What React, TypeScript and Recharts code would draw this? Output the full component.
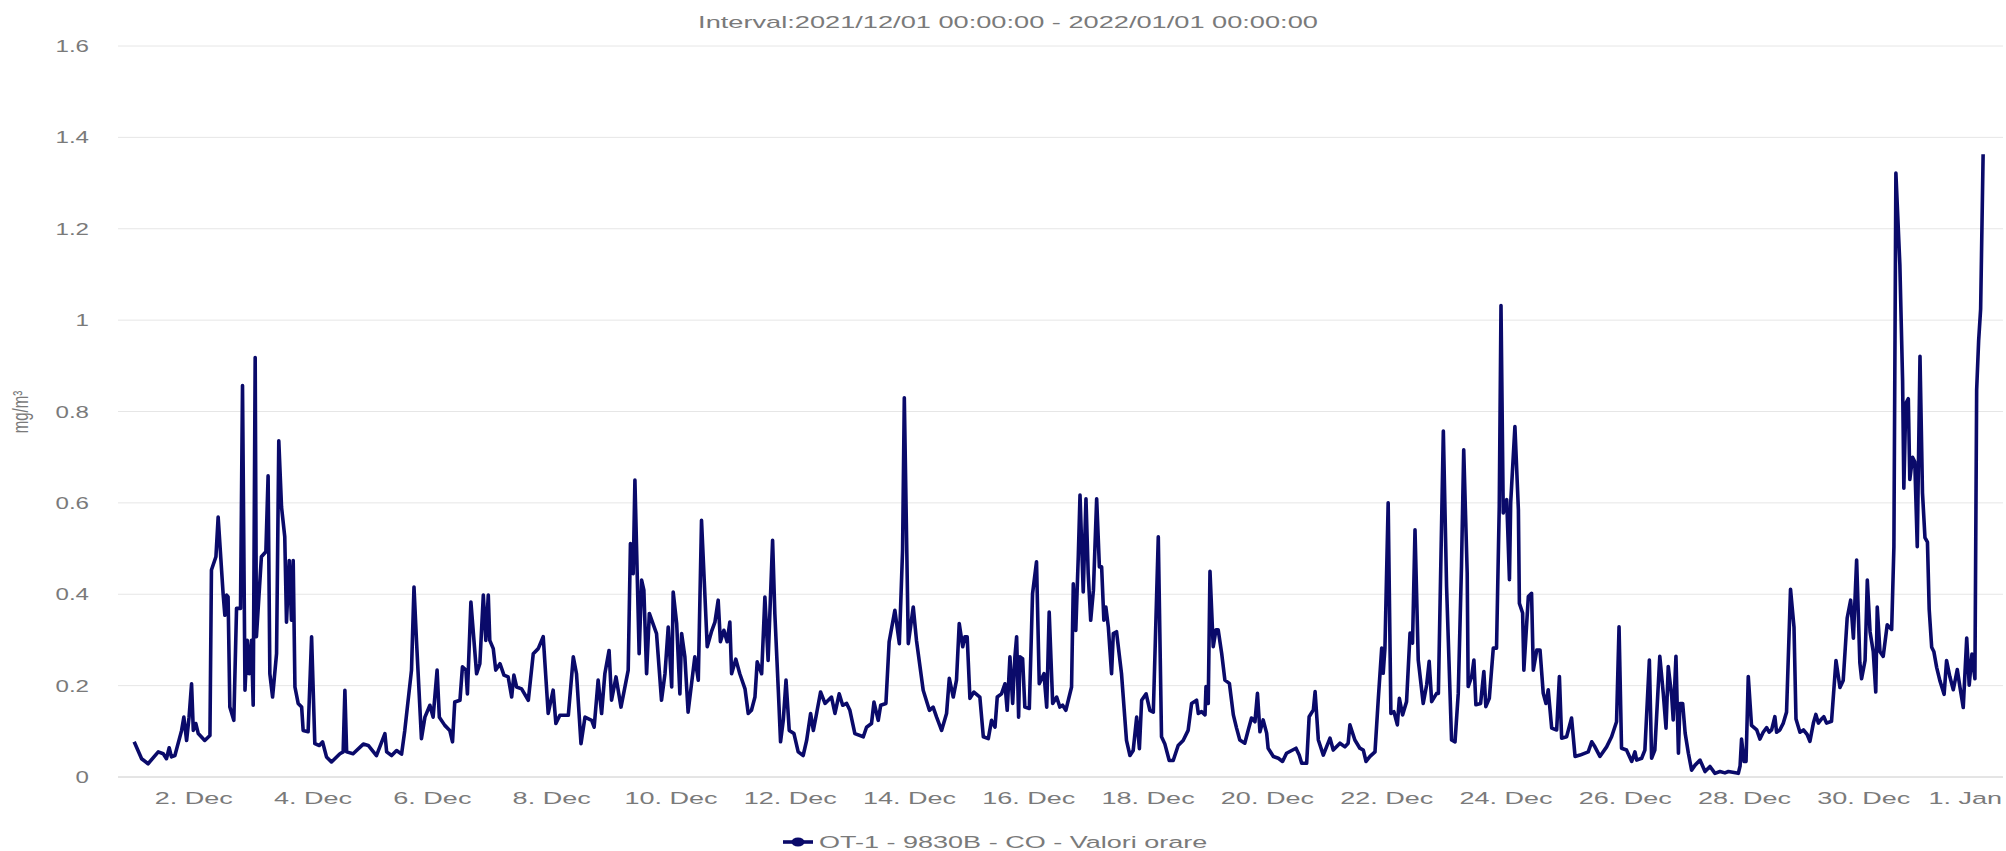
import React from 'react';
import { LineChart, Line, XAxis, YAxis, CartesianGrid } from 'recharts';

const TITLE = 'Interval:2021/12/01 00:00:00 - 2022/01/01 00:00:00';
const SERIES_NAME = 'OT-1 - 9830B - CO - Valori orare';
const Y_UNIT = 'mg/m³';

// x = hours since 2021/12/01 00:00
const X_TICKS = [24, 72, 120, 168, 216, 264, 312, 360, 408, 456, 504, 552, 600, 648, 696, 744];
const X_TICK_LABELS = [
  '2. Dec', '4. Dec', '6. Dec', '8. Dec', '10. Dec', '12. Dec', '14. Dec', '16. Dec',
  '18. Dec', '20. Dec', '22. Dec', '24. Dec', '26. Dec', '28. Dec', '30. Dec', '1. Jan',
];
const Y_TICKS = [0, 0.2, 0.4, 0.6, 0.8, 1, 1.2, 1.4, 1.6];

// [hour, mg/m3]
const DEC_01_04 = [
  [0, .077], [3, .040], [5.6, .029], [9.7, .055], [11.7, .051], [13, .040], [14.1, .064], [15, .044],
  [16.4, .047], [19.1, .102], [20, .131], [21.1, .080], [22.1, .131], [23.1, .204], [23.8, .102],
  [24.8, .117], [25.8, .095], [28.4, .080], [30.5, .091], [31.1, .453], [32.9, .482], [33.8, .569],
  [35.8, .401], [36.5, .354], [37.2, .398], [37.8, .394], [38.5, .153], [40.1, .124], [41.2, .369],
  [42.8, .369], [43.6, .857], [44.6, .190], [45.5, .299], [46.3, .226], [47.2, .299], [47.9, .157],
  [48.7, .918], [49.2, .307], [51.2, .482], [53, .493], [53.9, .659], [54.6, .226], [55.7, .175],
  [57.3, .270], [58.2, .736], [59.3, .591], [60.6, .526], [61.3, .339], [62.4, .474], [63.3, .343],
  [64, .474], [64.7, .197], [66, .161], [67.4, .153], [68, .102], [70, .099], [71.4, .307], [72.7, .073],
  [74.5, .069], [75.8, .077], [77.4, .044], [79.4, .033], [82.8, .051], [84.1, .055], [84.8, .190],
  [85.5, .055], [88.1, .051], [92.2, .072], [94.2, .069], [97.5, .047],
];

const DEC_05_09 = [
  [100.9, .095], [101.6, .055], [103.6, .047], [105.6, .058], [107.6, .050], [108.9, .102], [111.6, .234],
  [112.6, .416], [113.6, .299], [115.6, .084], [117, .131], [119, .157], [120.3, .131], [121.9, .234],
  [122.8, .131], [125, .113], [127, .102], [128.1, .077], [129, .164], [131.1, .168], [132.1, .241],
  [133.5, .234], [134.1, .182], [135.5, .383], [137.8, .226], [139.1, .248], [140.5, .398], [141.5, .299],
  [142.5, .398], [143.1, .299], [144.5, .281], [145.5, .234], [147.2, .248], [148.8, .223], [150.5, .219],
  [151.9, .175], [152.8, .223], [153.9, .197], [155.9, .193], [158.6, .168], [160.6, .270], [162.6, .281],
  [164.6, .307], [166.6, .139], [168.6, .190], [169.7, .117], [171.3, .135], [174.7, .135], [176.7, .263],
  [178, .226], [179.8, .073], [181.4, .131], [184.1, .124], [185.1, .109], [186.7, .212], [188.1, .139],
  [189.4, .226], [191.1, .277], [192.1, .168], [193.9, .219], [195.9, .153], [198.8, .234], [199.7, .511],
  [200.8, .445], [201.5, .650], [203.2, .270], [204.2, .431], [205.1, .409], [206.2, .226], [207.3, .358],
];

const DEC_09_14 = [
  [210.2, .314], [212.2, .168], [213.6, .226], [214.9, .328], [216.3, .197], [216.9, .405], [218.3, .336],
  [219.6, .182], [220.3, .314], [221.6, .263], [222.9, .142], [225.6, .263], [227, .212], [228.3, .562],
  [230.6, .285], [232.3, .318], [233.7, .339], [235, .387], [235.9, .296], [237.3, .321], [238.6, .296],
  [239.7, .339], [240.4, .226], [242.1, .258], [243.7, .226], [245.8, .193], [247.1, .139], [248.4, .146],
  [249.8, .175], [250.7, .252], [252.5, .226], [253.8, .394], [255.1, .255], [256.9, .518], [257.8, .358],
  [259.2, .190], [260.1, .077], [261.2, .124], [262.3, .212], [263.6, .102], [265.5, .095], [267.2, .055],
  [269.2, .047], [270.6, .080], [272.2, .139], [273.3, .102], [274.6, .139], [276.2, .186], [278, .161],
  [280.6, .175], [282, .139], [283.7, .182], [285.1, .157], [286.7, .161], [288, .146], [290, .095],
  [293.4, .088], [294.7, .109], [296.7, .117], [297.7, .164], [299.4, .124], [300.4, .157], [302.5, .161],
  [303.8, .296], [306.1, .365], [307.9, .292], [309.2, .496], [309.9, .830], [311.5, .292], [313.5, .372],
  [314.8, .299],
];

const DEC_14_18 = [
  [317.5, .190], [320, .146], [321.5, .153], [322.9, .131], [324.9, .102], [326.9, .139], [328, .216],
  [329.6, .175], [330.9, .212], [332, .336], [333.4, .285], [334.3, .307], [335.2, .307], [336.3, .172],
  [337.9, .186], [340.3, .175], [341.7, .088], [343.7, .084], [345, .124], [346.4, .109], [347.3, .175],
  [349, .182], [350.4, .204], [351.3, .146], [352.4, .263], [353.5, .161], [354.4, .263], [355.1, .307],
  [355.9, .131], [356.4, .263], [357.5, .259], [358.4, .153], [360.2, .150], [361.5, .401], [363.1, .471],
  [364.2, .204], [366.1, .226], [367.2, .153], [368.2, .361], [369.6, .161], [371.2, .175], [372.5, .153],
  [373.6, .157], [374.9, .146], [377.2, .197], [377.9, .423], [378.9, .321], [379.9, .482], [380.6, .617],
  [381.9, .405], [383, .609], [383.9, .445], [384.9, .343], [386, .409], [387.3, .609], [388.4, .460],
  [389.3, .460], [390.2, .343], [391, .372], [392, .328], [393.3, .226], [394, .314], [395.3, .318],
  [397.3, .226], [399.3, .080], [400.7, .047], [402, .058], [403.4, .131], [404.5, .062], [405.4, .168],
  [407.2, .182], [408.7, .146], [410.1, .142], [412.1, .526], [413.4, .088], [414.7, .073], [416.5, .036],
  [418.1, .036], [420.1, .069], [422.1, .080], [424.1, .102], [425.5, .161], [427.5, .168],
];

const DEC_18_23 = [
  [428.2, .139], [429.5, .143], [430.9, .136], [431.3, .198], [432.2, .161], [432.9, .450], [434.2, .285],
  [435.3, .322], [436.2, .322], [437.6, .271], [438.9, .212], [440.7, .205], [442.3, .136], [443.6, .107],
  [444.9, .081], [446.9, .074], [448.3, .103], [449.6, .129], [451, .121], [452, .183], [453, .099],
  [454.3, .125], [455.7, .096], [456.3, .063], [458.4, .045], [460.4, .041], [462.1, .034], [463.7, .052],
  [467.5, .063], [468.8, .048], [469.8, .030], [471.8, .030], [472.8, .132], [474.5, .147], [475.2, .187],
  [476.5, .081], [478.5, .048], [479.8, .066], [481.2, .085], [482.5, .059], [485.2, .074], [487.2, .066],
  [488.5, .074], [489.2, .114], [491.2, .081], [493.2, .063], [494.6, .059], [495.7, .034], [497.3, .045],
  [499.3, .055], [500.6, .169], [502, .282], [502.6, .227], [503.3, .282], [504.6, .600], [505.7, .139],
  [506.9, .143], [508.3, .114], [509.1, .172], [510.4, .136], [512, .165], [513.4, .315], [514.4, .293],
  [515.4, .541], [516.7, .256], [518.7, .161], [520.1, .202], [521.1, .253], [522.1, .165], [524.1, .183],
  [524.8, .183], [526.8, .757], [528.1, .417], [530.1, .081], [531.5, .077], [532.8, .183], [534.1, .461],
  [535, .716],
];

const DEC_23_27 = [
  [536.4, .446], [536.8, .198], [538.2, .220], [539.1, .256], [539.9, .158], [541.8, .161], [543.1, .231],
  [543.9, .154], [545.3, .172], [546.9, .282], [548.2, .282], [549.3, .592], [550, 1.032], [550.9, .578],
  [552.3, .607], [553.4, .432], [553.9, .600], [555.6, .767], [557, .585], [557.4, .380], [558.7, .359],
  [559.2, .234], [561, .395], [562.3, .402], [563, .234], [564.4, .278], [565.7, .278], [567, .183],
  [568.1, .161], [569, .191], [570.4, .107], [572.4, .103], [573.5, .220], [574.4, .085], [576.4, .088],
  [578.4, .129], [579.8, .045], [581.8, .048], [585.1, .055], [586.5, .077], [587.8, .066], [589.8, .045],
  [592.5, .066], [594.5, .088], [596.5, .121], [597.5, .329], [598.5, .063], [600.5, .059], [602.6, .034],
  [603.9, .055], [604.6, .037], [606.6, .041], [607.9, .059], [609.7, .256], [610.6, .041], [611.9, .059],
  [613.9, .264], [615.3, .183], [616.4, .107], [617.3, .242], [618.7, .176], [619.3, .125], [620.4, .264],
  [621.4, .052], [622, .161], [623.1, .161], [624.1, .096], [625.4, .052], [626.7, .015], [628.1, .026],
  [630.1, .037], [632.1, .012], [634.1, .023], [636.1, .008], [638.1, .012], [640.1, .009], [641.5, .012],
  [645.5, .008],
];

const DEC_27_31 = [
  [646.2, .024], [646.8, .083], [647.8, .034], [648.6, .034], [649.5, .220], [650.8, .113], [652.9, .103],
  [654.2, .083], [655.5, .098], [656.9, .108], [657.9, .098], [658.9, .103], [660.2, .132], [660.9, .098],
  [662.2, .103], [663.6, .118], [664.9, .142], [666.5, .411], [667.9, .328], [668.7, .127], [670.3, .098],
  [671.7, .103], [673.2, .093], [674.3, .078], [675.7, .118], [676.7, .137], [677.7, .118], [679, .127],
  [679.9, .132], [681, .118], [683, .122], [684.8, .255], [686.4, .196], [687.7, .211], [689.3, .348],
  [690.7, .387], [691.8, .304], [693.1, .475], [694.4, .250], [695.1, .215], [696.5, .255], [697.4, .431],
  [698.5, .318], [699.8, .274], [700.8, .186], [701.4, .372], [702.5, .274], [703.8, .264], [705.4, .333],
  [707.2, .323], [708.1, .504], [708.9, 1.322], [710.5, 1.121], [711.6, .867], [712.1, .632], [712.9, .818],
  [713.9, .828], [714.5, .651], [715.6, .700], [716.5, .690], [717.5, .504], [718.6, .921], [719.6, .622],
  [720.6, .524], [721.6, .514], [722.3, .367], [723.3, .284], [724.2, .274], [725.3, .240], [726.6, .211],
  [728.3, .181], [729.3, .255], [730.6, .220], [732, .191], [733.6, .235], [734.7, .196], [736, .152],
  [737.4, .304], [738.4, .201], [739.5, .269], [740.7, .215], [741.4, .847], [742.2, .955], [743, 1.024],
  [744, 1.363],
];

const data = [
  ...DEC_01_04, ...DEC_05_09, ...DEC_09_14, ...DEC_14_18, ...DEC_18_23, ...DEC_23_27, ...DEC_27_31,
].map(([h, v]) => ({ h, co: v }));

const LINE_COLOR = '#0a0a6a';
const TEXT_COLOR = '#7a7a7a';
const FONT = '"Liberation Sans", Arial, Helvetica, sans-serif';

const XTick = (props: any) => {
  const { x, payload } = props;
  const i = X_TICKS.indexOf(payload.value);
  const label = X_TICK_LABELS[i];
  const last = i === X_TICKS.length - 1;
  return (
    <g transform={`translate(${last ? 2002 : x},804)`}>
      <text
        transform="scale(1.59,1)"
        textAnchor={last ? 'end' : 'middle'}
        fill={TEXT_COLOR}
        fontSize={17}
        fontFamily={FONT}
      >
        {label}
      </text>
    </g>
  );
};

const YTick = (props: any) => {
  const { y, payload } = props;
  return (
    <g transform={`translate(89,${y + 6})`}>
      <text transform="scale(1.42,1)" textAnchor="end" fill={TEXT_COLOR} fontSize={17} fontFamily={FONT}>
        {String(+payload.value.toFixed(1))}
      </text>
    </g>
  );
};

export default function App() {
  return (
    <div style={{ position: 'absolute', left: 0, top: 0, width: 2006, height: 851, background: '#fff' }}>
      <LineChart width={2006} height={851} data={data} margin={{ top: 46, right: 3, bottom: 34, left: 0 }}>
        <CartesianGrid vertical={false} stroke="#e6e6e6" />
        <XAxis
          dataKey="h"
          type="number"
          domain={[-6.5, 752]}
          ticks={X_TICKS}
          tick={<XTick />}
          tickLine={false}
          axisLine={{ stroke: '#d6d6d6' }}
          height={40}
          allowDataOverflow
        />
        <YAxis
          domain={[0, 1.6]}
          ticks={Y_TICKS}
          tick={<YTick />}
          axisLine={false}
          tickLine={false}
          width={118}
        />
        <Line
          type="linear"
          dataKey="co"
          stroke={LINE_COLOR}
          strokeWidth={3.6}
          strokeLinejoin="round"
          dot={false}
          isAnimationActive={false}
        />
      </LineChart>
      <svg width={2006} height={851} style={{ position: 'absolute', left: 0, top: 0, pointerEvents: 'none' }}>
        <g transform="translate(1008,28)">
          <text transform="scale(1.6,1)" textAnchor="middle" fill={TEXT_COLOR} fontSize={17} fontFamily={FONT}>
            {TITLE}
          </text>
        </g>
        <g transform="translate(28,412) rotate(-90)">
          <text transform="scale(1,1.45)" textAnchor="middle" fill={TEXT_COLOR} fontSize={15} fontFamily={FONT}>
            {Y_UNIT}
          </text>
        </g>
        <line x1={783} y1={842} x2={813} y2={842} stroke={LINE_COLOR} strokeWidth={3.6} />
        <ellipse cx={798} cy={842} rx={6.5} ry={4.5} fill={LINE_COLOR} />
        <g transform="translate(819,848)">
          <text transform="scale(1.59,1)" fill={TEXT_COLOR} fontSize={17} fontFamily={FONT}>
            {SERIES_NAME}
          </text>
        </g>
      </svg>
    </div>
  );
}
